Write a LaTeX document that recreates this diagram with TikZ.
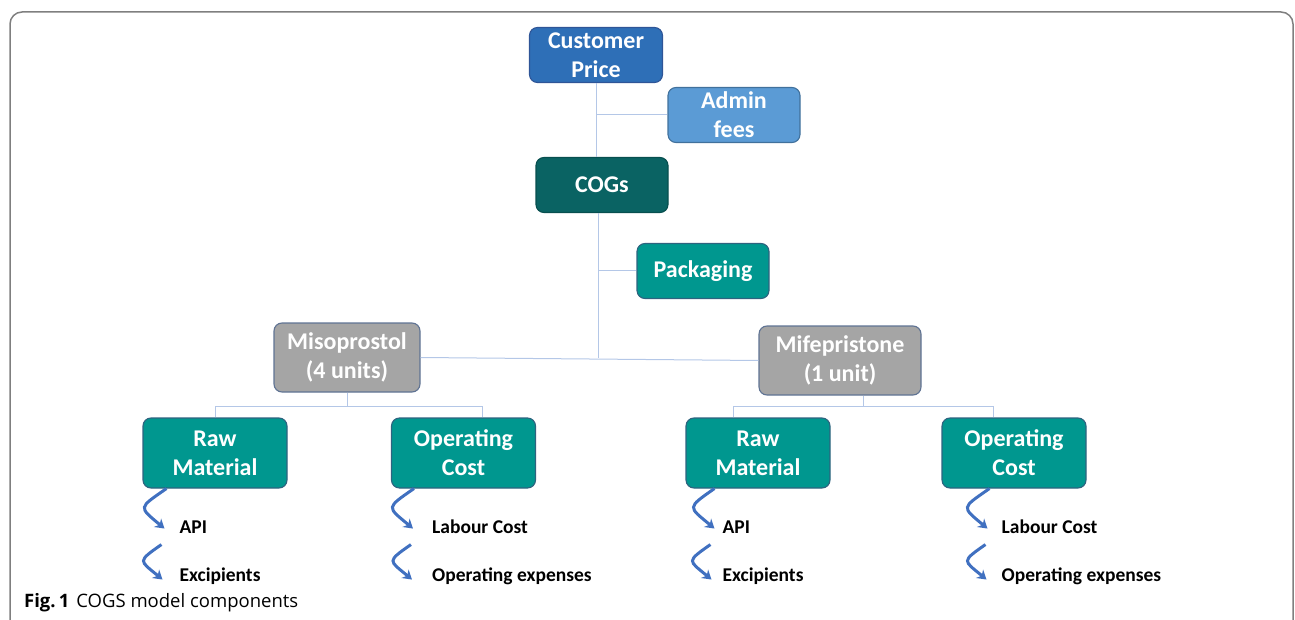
\documentclass[tikz,border=0pt]{standalone}
\usepackage{fontspec}
\setmainfont{Carlito}
\newfontfamily\capfont{Open Sans}
\usetikzlibrary{positioning,arrows.meta}

\definecolor{priceblue}{HTML}{2E6FB7}
\definecolor{priceline}{HTML}{2F5597}
\definecolor{adminblue}{HTML}{5B9BD5}
\definecolor{adminline}{HTML}{41719C}
\definecolor{cogsteal}{HTML}{0A6363}
\definecolor{teal}{HTML}{00978F}
\definecolor{tealline}{HTML}{2E637F}
\definecolor{drug}{HTML}{A5A5A5}
\definecolor{drugline}{HTML}{5F7393}
\definecolor{linkblue}{HTML}{B4C7E7}
\definecolor{curlblue}{HTML}{4070C0}
\definecolor{framegray}{HTML}{7F7F7F}

\begin{document}
\begin{tikzpicture}[x=1pt, y=1pt, node distance=100pt, on grid,
		box/.style={draw=tealline, fill=teal, line width=1.1pt, rounded corners=8pt, align=center,
			text=white, inner sep=0pt, font=\fontsize{24}{29}\selectfont\bfseries},
		small/.style={box, minimum width=132pt, minimum height=55pt},
		leaf/.style={box, minimum width=144pt, minimum height=70pt},
		drugbox/.style={box, fill=drug, draw=drugline, minimum height=69pt},
		link/.style={draw=linkblue, line width=1pt},
		curl/.style={draw=curlblue, line width=3pt, -{Stealth[length=9pt,width=11pt]},
			out=215, in=140, looseness=2.2},
		item/.style={anchor=base west, inner sep=0pt, font=\fontsize{19.5}{22}\selectfont\bfseries}]
			\useasboundingbox (0,0) rectangle (1295,-620);
			\draw[framegray, line width=1.5pt, rounded corners=12pt]
			(10,-660) -- (10,-12) -- (1293,-12) -- (1293,-660);

			% top of the tree
			\node[small, fill=priceblue, draw=priceline, minimum width=133pt] (price) at (596,-55) {Customer\\Price};
			\node[small, fill=adminblue, draw=adminline] (admin) [below right=60pt and 138pt of price] {Admin\\fees};
			\node[small, fill=cogsteal, draw=cogsteal!80!black] (cogs) [below right=130pt and 6pt of price] {COGs};
			\node[small] (pack) [below right=86pt and 101pt of cogs] {Packaging};
			\node[drugbox, minimum width=146pt] (miso) [below left=172.5pt and 255pt of cogs] {Misoprostol\\(4 units)};
			\node[drugbox, minimum width=162pt] (mife) [below right=175.5pt and 238pt of cogs] {Mifepristone\\(1 unit)};
			\node[leaf] (rawL) [below left=95.5pt and 132pt of miso] {Raw\\Material};
			\node[leaf] (opL) [below right=95.5pt and 116.5pt of miso] {Operating\\Cost};
			\node[leaf] (rawR) [below left=92.5pt and 82pt of mife] {Raw\\Material};
			\node[leaf] (opR) [below right=92.5pt and 174pt of mife] {Operating\\Cost};

			% tree lines
			\draw[link] (price.south) -- (price.south |- cogs.north);
			\draw[link] (price.south |- admin.west) -- (admin.west);
			\coordinate (hub) at ([xshift=-4pt]cogs.south);
			\draw[link] (hub) |- (pack.west);
			\draw[link] (hub) -- (hub |- miso.east);
			\draw[link] (miso.east) -- (mife.west);
			\draw[link] (miso.south) -- ++(0,-14pt) coordinate (mbar);
			\draw[link] (rawL.north) |- (mbar) -| ([xshift=19pt]opL.north);
			\draw[link] ([xshift=23pt]mife.south) -- ++(0,-11pt) coordinate (fbar);
			\draw[link] ([xshift=-25pt]rawR.north) |- (fbar) -| ([xshift=-21pt]opR.north);

			% items under each cost
			\node[item] (apiL) at ([xshift=37pt,yshift=-45pt]rawL.south west) {API};
			\node[item] (excL) at ([yshift=-48pt]apiL.base west) {Excipients};
			\node[item] (labL) at ([xshift=41pt,yshift=-45pt]opL.south west) {Labour Cost};
			\node[item] (oexL) at ([yshift=-48pt]labL.base west) {Operating expenses};
			\node[item] (apiR) at ([xshift=37pt,yshift=-45pt]rawR.south west) {API};
			\node[item] (excR) at ([yshift=-48pt]apiR.base west) {Excipients};
			\node[item] (labR) at ([xshift=60pt,yshift=-45pt]opR.south west) {Labour Cost};
			\node[item] (oexR) at ([yshift=-48pt]labR.base west) {Operating expenses};

			\draw[curl] ([xshift=-13pt]apiL.base west |- rawL.south) to ([xshift=-15pt,yshift=5pt]apiL.base west);
			\draw[curl] ([xshift=-18pt,yshift=-11pt]apiL.base west) to ([xshift=-17pt,yshift=2pt]excL.base west);
			\draw[curl] ([xshift=-18pt]labL.base west |- opL.south) to ([xshift=-19pt,yshift=5pt]labL.base west);
			\draw[curl] ([xshift=-21pt,yshift=-11pt]labL.base west) to ([xshift=-20pt,yshift=2pt]oexL.base west);
			\draw[curl] ([xshift=-8pt]apiR.base west |- rawR.south) to ([xshift=-8pt,yshift=5pt]apiR.base west);
			\draw[curl] ([xshift=-12pt,yshift=-11pt]apiR.base west) to ([xshift=-11pt,yshift=2pt]excR.base west);
			\draw[curl] ([xshift=-12pt]labR.base west |- opR.south) to ([xshift=-14pt,yshift=5pt]labR.base west);
			\draw[curl] ([xshift=-16pt,yshift=-11pt]labR.base west) to ([xshift=-15pt,yshift=2pt]oexR.base west);

			% caption
			\node[anchor=base west, inner sep=0pt, font=\capfont\fontsize{18.5}{21}\selectfont] (caption) at (24,-607)
			{\textbf{Fig.\,1}\hspace{7pt}COGS model components};
		\end{tikzpicture}
\end{document}
